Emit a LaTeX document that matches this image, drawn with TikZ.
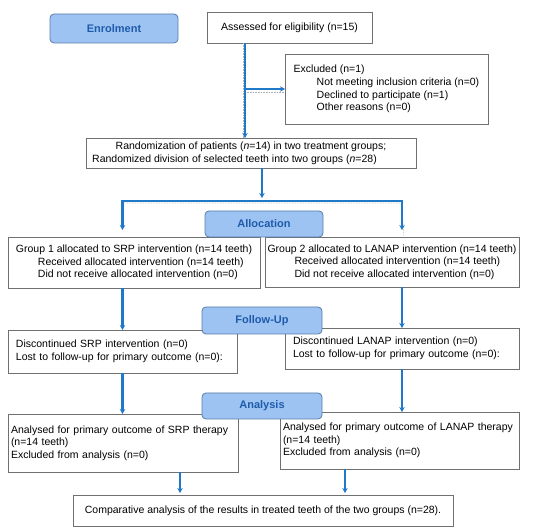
\documentclass[tikz,border=0pt]{standalone}
\usepackage{fontspec}
\setmainfont{Liberation Sans}
\usetikzlibrary{arrows.meta}
\definecolor{arrowblue}{HTML}{1F78C8}
\definecolor{boxgray}{HTML}{707070}
\definecolor{stagefill}{HTML}{9DC3F3}
\definecolor{stageedge}{HTML}{5A7CA8}
\definecolor{stagetext}{HTML}{1F5BAA}

\begin{document}
\begin{tikzpicture}[x=1pt,y=-1pt,
                    box/.style={draw=boxgray,line width=0.7pt,fill=white,inner sep=2pt,outer sep=0pt,
                                anchor=north west,font=\fontsize{10.5}{12.6}\selectfont},
                    stage/.style={draw=stageedge,fill=stagefill,line width=0.8pt,rounded corners=4pt,
                                  outer sep=0pt,anchor=north west,text=stagetext,
                                  font=\fontsize{11}{13}\selectfont\bfseries},
                    arr/.style={draw=arrowblue,line width=2.2pt,-{Stealth[length=5pt,width=5.5pt]}},
                    ghost/.style={draw=gray!60,densely dotted,line width=0.6pt}]
  \useasboundingbox (0,0) rectangle (550,532);

  % Enrolment
  \node[box,minimum width=165pt,minimum height=31pt] (assess) at (207,12) {Assessed for eligibility (n=15)};
  \node[box,align=left,minimum width=203pt,minimum height=70pt] (excl) at (285,54)
    {Excluded (n=1)\\\hspace*{23pt}Not meeting inclusion criteria (n=0)\\
     \hspace*{23pt}Declined to participate (n=1)\\\hspace*{23pt}Other reasons (n=0)};
  \node[box,align=center,minimum width=330pt,minimum height=30pt] (rand) at (86,138)
    {Randomization of patients (\textit{n}=14) in two treatment groups;\\
     Randomized division of selected teeth into two groups (\textit{n}=28)\hspace*{33pt}};

  % Allocation
  \node[box,align=left,minimum width=252pt,minimum height=51pt] (grpa) at (8,237)
    {Group 1 allocated to SRP intervention (n=14 teeth)\\
     \hspace*{22pt}Received allocated intervention (n=14 teeth)\\
     \hspace*{22pt}Did not receive allocated intervention (n=0)};
  \node[box,align=left,minimum width=254pt,minimum height=50pt] (grpb) at (265,237)
    {Group 2 allocated to LANAP intervention (n=14 teeth)\\
     \hspace*{27pt}Received allocated intervention (n=14 teeth)\\
     \hspace*{27pt}Did not receive allocated intervention (n=0)};

  % Follow-Up
  \node[box,align=left,text width=213pt,inner xsep=8pt,minimum height=43pt] (dsrp) at (8,330)
    {Discontinued SRP intervention (n=0)\\Lost to follow-up for primary outcome (n=0):};
  \node[box,align=left,text width=218pt,inner xsep=8pt,minimum height=41pt] (dlanap) at (285,328)
    {Discontinued LANAP intervention (n=0)\\Lost to follow-up for primary outcome (n=0):};

  % Analysis
  \node[box,align=left,text width=224pt,inner xsep=3pt,minimum height=58pt] (asrp) at (8,414)
    {Analysed for primary outcome of SRP therapy\\(n=14 teeth)\\Excluded from analysis (n=0)};
  \node[box,align=left,text width=233pt,inner xsep=3pt,minimum height=57pt] (alanap) at (280,412)
    {Analysed for primary outcome of LANAP therapy\\(n=14 teeth)\\Excluded from analysis (n=0)};
  \node[box,minimum width=380pt,minimum height=31pt] (comp) at (73,495)
    {Comparative analysis of the results in treated teeth of the two groups (n=28).};

  % stage labels
  \node[stage,minimum width=128pt,minimum height=29pt] (enrol) at (50,14) {Enrolment};
  \node[stage,minimum width=118pt,minimum height=26pt] (alloc) at (205,211) {Allocation};
  \node[stage,minimum width=120pt,minimum height=27pt] (follow) at (202,307) {Follow-Up};
  \node[stage,minimum width=120pt,minimum height=26pt] (anal) at (202,393) {Analysis};

  % arrows
  \coordinate (trunk) at ([xshift=38pt]assess.south west);
  \coordinate (tee) at (trunk |- excl.west);
  \coordinate (trunkend) at (trunk |- rand.north);
  \draw[ghost] ([xshift=-2pt]trunk) -- ([xshift=-2pt]trunkend);
  \draw[ghost] ([yshift=-3pt]tee) -- ([yshift=-3pt]excl.west);
  \draw[arr] (trunk) -- (trunkend);
  \draw[arr] (tee) -- (excl.west);

  \coordinate (fork) at ([xshift=176pt]rand.south west);
  \coordinate (split) at ([yshift=-33pt]fork);
  \coordinate (splitL) at (split -| dsrp.north);
  \coordinate (splitR) at (split -| dlanap.north);
  \coordinate (tipL) at (splitL |- grpa.north);
  \coordinate (tipR) at (splitR |- grpb.north);
  \draw[ghost] ([yshift=-2pt]splitL) -- ([yshift=-2pt]splitR) -- ([yshift=-2pt,xshift=2pt]tipR);
  \draw[arr,shorten >=3pt] (fork) -- (split);
  \draw[arr,shorten >=7pt] (split) -- (splitL) -- (tipL);
  \draw[arr,shorten >=7pt] (split) -- (splitR) -- (tipR);

  \draw[arr] (grpa.south -| dsrp.north) -- (dsrp.north);
  \draw[arr] (grpb.south -| dlanap.north) -- (dlanap.north);
  \draw[arr] (dsrp.south) -- (dsrp.south |- asrp.north);
  \draw[arr] (dlanap.south) -- (dlanap.south |- alanap.north);

  \coordinate (joinL) at ([xshift=107pt]comp.north west);
  \coordinate (joinR) at ([xshift=272pt]comp.north west);
  \draw[arr,shorten >=2pt] (joinL |- asrp.south) -- (joinL);
  \draw[arr,shorten >=2pt] (joinR |- alanap.south) -- (joinR);
\end{tikzpicture}
\end{document}
